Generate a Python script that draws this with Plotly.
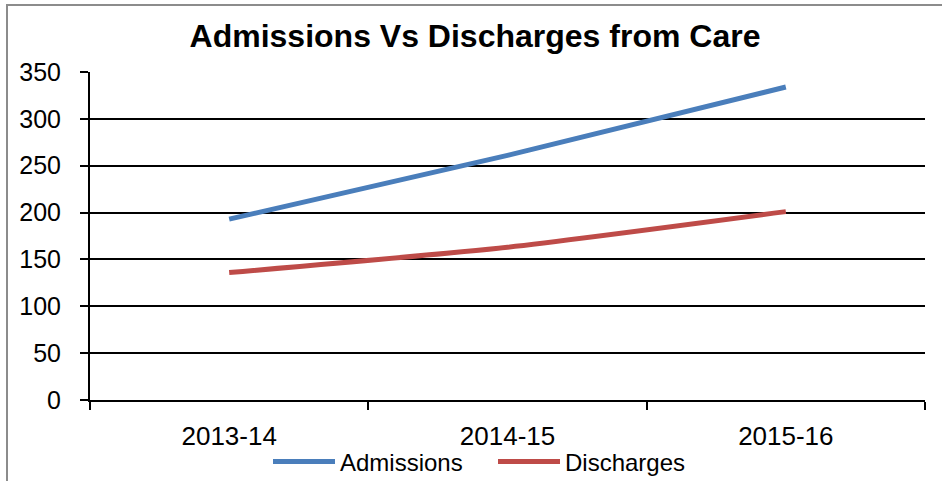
import plotly.graph_objects as go

categories = ["2013-14", "2014-15", "2015-16"]
admissions = [193, 261, 334]
discharges = [136, 163, 201]
y_ticks = [0, 50, 100, 150, 200, 250, 300, 350]

FONT = "Liberation Sans, Arial, sans-serif"

fig = go.Figure()
fig.add_trace(go.Scatter(x=categories, y=admissions, name="Admissions", mode="lines", legend="legend",
                         line=dict(color="#4A7EBB", width=5, shape="spline", smoothing=0.6)))
fig.add_trace(go.Scatter(x=categories, y=discharges, name="Discharges", mode="lines", legend="legend2",
                         line=dict(color="#BE4B48", width=5, shape="spline", smoothing=0.6)))

L, R, T, B = 90, 17, 72, 81
W, H = 942, 481
pw, ph = W - L - R, H - T - B

def px_to_paper_x(px):
    return (px - L) / pw

def px_to_paper_y(py):
    return (H - B - py) / ph

legend_common = dict(orientation="h", xref="paper", xanchor="left",
                     y=px_to_paper_y(462), yref="paper", yanchor="middle",
                     font=dict(size=24, family=FONT), bgcolor="rgba(0,0,0,0)", itemwidth=62)

fig.update_layout(
    width=W, height=H,
    margin=dict(l=L, r=R, t=T, b=B, autoexpand=False),
    paper_bgcolor="white", plot_bgcolor="white",
    font=dict(family=FONT, color="black"),
    title=dict(text="<b>Admissions Vs Discharges from Care</b>", font=dict(size=32, family=FONT, color="black"),
               x=475 / W, xref="container", xanchor="center", y=1 - 36 / H, yref="container", yanchor="middle"),
    showlegend=True,
    legend=dict(x=px_to_paper_x(268), **legend_common),
    legend2=dict(x=px_to_paper_x(493), **legend_common),
    xaxis=dict(type="category", range=[-0.5, 2.5], tickson="boundaries", automargin=False,
               showgrid=False, showline=True, linecolor="black", linewidth=2,
               ticks="outside", ticklen=8, tickcolor="black", tickwidth=1.5,
               tickfont=dict(size=26, family=FONT), ticklabelstandoff=12),
    yaxis=dict(range=[0, 350], tickvals=y_ticks, showgrid=True, gridcolor="black", gridwidth=1.5,
               automargin=False,
               showline=True, linecolor="black", linewidth=2, zeroline=False,
               ticks="outside", ticklen=8, tickcolor="black", tickwidth=1.5,
               tickfont=dict(size=25, family=FONT), ticklabelstandoff=14),
    shapes=[dict(type="rect", xref="paper", yref="paper",
                 x0=px_to_paper_x(7), x1=px_to_paper_x(960),
                 y0=px_to_paper_y(500), y1=px_to_paper_y(5),
                 line=dict(color="#8c8c8c", width=2), fillcolor="rgba(0,0,0,0)", layer="below")],
)

fig.write_html("out.html", config={"displayModeBar": False},
               post_script="document.body.style.margin='0';document.body.style.overflow='hidden';")
